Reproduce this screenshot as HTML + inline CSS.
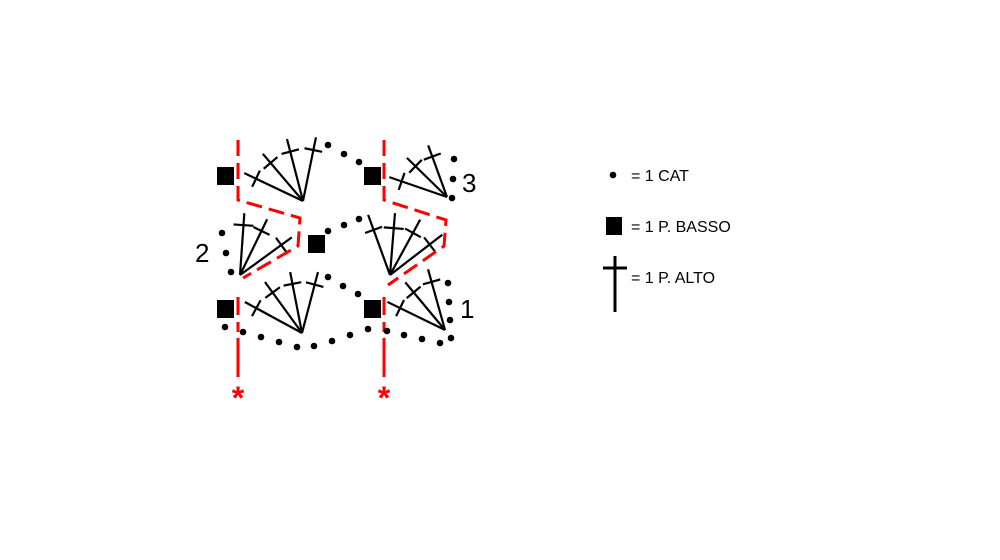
<!DOCTYPE html>
<html><head><meta charset="utf-8"><style>
html,body{margin:0;padding:0;background:#fff;}
svg{display:block}
text{font-family:"Liberation Sans",sans-serif;}
</style></head><body>
<svg width="1000" height="560" viewBox="0 0 1000 560" xmlns="http://www.w3.org/2000/svg">
<g stroke="#000" stroke-width="2.2" fill="none">
<g transform="translate(303,201)">
<g transform="rotate(-64.6)"><line x1="0" y1="0" x2="0" y2="-65"/><line x1="-9" y1="-52" x2="9" y2="-52"/></g>
<g transform="rotate(-40.4)"><line x1="0" y1="0" x2="0" y2="-62"/><line x1="-9" y1="-50" x2="9" y2="-50"/></g>
<g transform="rotate(-14.5)"><line x1="0" y1="0" x2="0" y2="-64"/><line x1="-9" y1="-51" x2="9" y2="-51"/></g>
<g transform="rotate(11.5)"><line x1="0" y1="0" x2="0" y2="-65"/><line x1="-9" y1="-52" x2="9" y2="-52"/></g>
</g>
<g transform="translate(447,197)">
<g transform="rotate(-71)"><line x1="0" y1="0" x2="0" y2="-61"/><line x1="-9" y1="-48" x2="9" y2="-48"/></g>
<g transform="rotate(-45.7)"><line x1="0" y1="0" x2="0" y2="-56"/><line x1="-9" y1="-44" x2="9" y2="-44"/></g>
<g transform="rotate(-20)"><line x1="0" y1="0" x2="0" y2="-55"/><line x1="-9" y1="-43" x2="9" y2="-43"/></g>
</g>
<g transform="translate(240,275)">
<g transform="rotate(4)"><line x1="0" y1="0" x2="0" y2="-62"/><line x1="-10" y1="-50" x2="10" y2="-50"/></g>
<g transform="rotate(26)"><line x1="0" y1="0" x2="0" y2="-62"/><line x1="-9" y1="-49" x2="9" y2="-49"/></g>
<g transform="rotate(54)"><line x1="0" y1="0" x2="0" y2="-64"/><line x1="-9" y1="-51" x2="9" y2="-51"/></g>
</g>
<g transform="translate(390,275)">
<g transform="rotate(-20)"><line x1="0" y1="0" x2="0" y2="-64"/><line x1="-9" y1="-48" x2="9" y2="-48"/></g>
<g transform="rotate(4.6)"><line x1="0" y1="0" x2="0" y2="-62"/><line x1="-10" y1="-47" x2="10" y2="-47"/></g>
<g transform="rotate(28.6)"><line x1="0" y1="0" x2="0" y2="-63"/><line x1="-9" y1="-48" x2="9" y2="-48"/></g>
<g transform="rotate(52.4)"><line x1="0" y1="0" x2="0" y2="-66"/><line x1="-9" y1="-50" x2="9" y2="-50"/></g>
</g>
<g transform="translate(302,333)">
<g transform="rotate(-61.5)"><line x1="0" y1="0" x2="0" y2="-65"/><line x1="-9" y1="-52" x2="9" y2="-52"/></g>
<g transform="rotate(-36)"><line x1="0" y1="0" x2="0" y2="-63"/><line x1="-9" y1="-50" x2="9" y2="-50"/></g>
<g transform="rotate(-11)"><line x1="0" y1="0" x2="0" y2="-62"/><line x1="-9" y1="-50" x2="9" y2="-50"/></g>
<g transform="rotate(14.7)"><line x1="0" y1="0" x2="0" y2="-63"/><line x1="-9" y1="-50" x2="9" y2="-50"/></g>
</g>
<g transform="translate(445,330)">
<g transform="rotate(-64)"><line x1="0" y1="0" x2="0" y2="-64"/><line x1="-9" y1="-50" x2="9" y2="-50"/></g>
<g transform="rotate(-39.8)"><line x1="0" y1="0" x2="0" y2="-62"/><line x1="-9" y1="-49" x2="9" y2="-49"/></g>
<g transform="rotate(-15.6)"><line x1="0" y1="0" x2="0" y2="-63"/><line x1="-9" y1="-50" x2="9" y2="-50"/></g>
</g>
<line x1="615" y1="256" x2="615" y2="312" stroke-width="3"/>
<line x1="603" y1="268" x2="627" y2="268" stroke-width="3"/>
</g>
<g stroke="#f00" stroke-width="3" fill="none" stroke-dasharray="16,7">
<polyline points="238,140 238,200 300,218 298,246 243,278"/>
<polyline points="384,140 384,200 446,220 444,246 388,285"/>
</g>
<g stroke="#f00" stroke-width="3" fill="none">
<line x1="238" y1="297" x2="238" y2="315"/><line x1="238" y1="322" x2="238" y2="332"/><line x1="238" y1="338" x2="238" y2="377"/>
<line x1="384" y1="297" x2="384" y2="315"/><line x1="384" y1="322" x2="384" y2="332"/><line x1="384" y1="338" x2="384" y2="377"/>
</g>
<text x="238" y="409" text-anchor="middle" fill="#f00" font-size="32" font-weight="bold">*</text>
<text x="384" y="409" text-anchor="middle" fill="#f00" font-size="32" font-weight="bold">*</text>
<g fill="#000">
<rect x="217" y="167" width="17" height="18"/>
<rect x="364" y="167" width="17" height="18"/>
<rect x="308" y="235" width="17" height="18"/>
<rect x="217" y="300" width="17" height="18"/>
<rect x="364" y="300" width="17" height="18"/>
<rect x="606" y="217" width="16" height="18"/>
</g>
<g fill="#000">
<circle cx="328" cy="145" r="3.3"/><circle cx="344" cy="154" r="3.3"/><circle cx="359" cy="162" r="3.3"/>
<circle cx="454" cy="159" r="3.3"/><circle cx="453" cy="179" r="3.3"/><circle cx="452" cy="198" r="3.3"/>
<circle cx="222" cy="233" r="3.3"/><circle cx="226" cy="253" r="3.3"/><circle cx="231" cy="272" r="3.3"/>
<circle cx="328" cy="231" r="3.3"/><circle cx="344" cy="225" r="3.3"/><circle cx="359" cy="219" r="3.3"/>
<circle cx="328" cy="277" r="3.3"/><circle cx="343" cy="286" r="3.3"/><circle cx="358" cy="294" r="3.3"/>
<circle cx="448" cy="283" r="3.3"/><circle cx="449" cy="302" r="3.3"/><circle cx="450" cy="320" r="3.3"/>
<circle cx="225" cy="327" r="3.3"/><circle cx="243" cy="332" r="3.3"/><circle cx="261" cy="337" r="3.3"/><circle cx="279" cy="342" r="3.3"/><circle cx="297" cy="347" r="3.3"/><circle cx="314" cy="346" r="3.3"/><circle cx="332" cy="341" r="3.3"/><circle cx="350" cy="335" r="3.3"/><circle cx="368" cy="329" r="3.3"/><circle cx="387" cy="331" r="3.3"/><circle cx="404" cy="335" r="3.3"/><circle cx="422" cy="339" r="3.3"/><circle cx="440" cy="343" r="3.3"/><circle cx="451" cy="338" r="3.3"/>
<circle cx="613" cy="175" r="3.3"/>
</g>
<g fill="#000" font-size="26">
<text x="462" y="192">3</text>
<text x="195" y="262">2</text>
<text x="460" y="318">1</text>
</g>
<g fill="#000" font-size="16">
<text x="631" y="181">= 1 CAT</text>
<text x="631" y="232">= 1 P. BASSO</text>
<text x="631" y="283">= 1 P. ALTO</text>
</g>
</svg>
</body></html>
